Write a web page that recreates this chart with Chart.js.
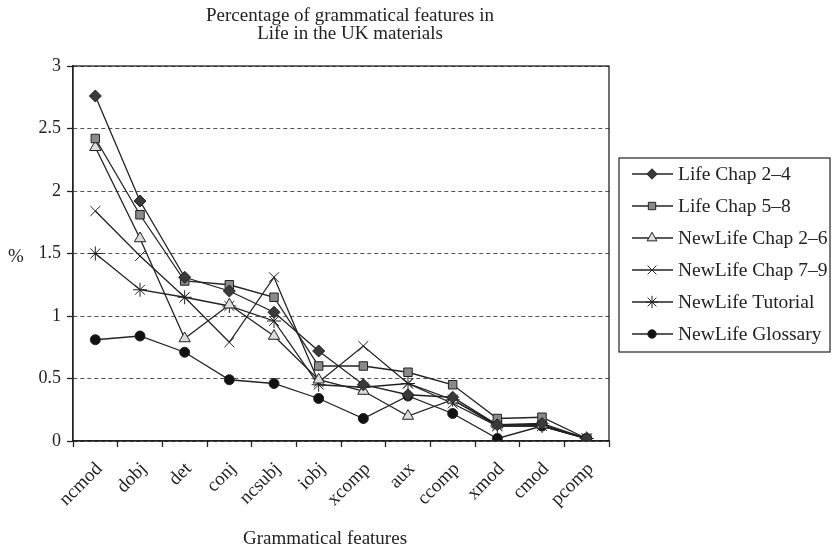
<!DOCTYPE html>
<html>
<head>
<meta charset="utf-8">
<script src="https://cdn.jsdelivr.net/npm/chart.js@4"></script>
<style>
  html, body { margin: 0; padding: 0; background: #fff; }
  #wrap { width: 833px; height: 551px; }
</style>
</head>
<body>
<div id="wrap"><canvas id="featChart" width="833" height="551"></canvas></div>
<script>
const categories = ['ncmod', 'dobj', 'det', 'conj', 'ncsubj', 'iobj', 'xcomp', 'aux', 'ccomp', 'xmod', 'cmod', 'pcomp'];
const yTicks = ['0', '0.5', '1', '1.5', '2', '2.5', '3'];

const lifeChap24      = [2.76, 1.92, 1.31, 1.20, 1.03, 0.72, 0.45, 0.37, 0.35, 0.13, 0.14, 0.02];
const lifeChap58      = [2.42, 1.81, 1.28, 1.25, 1.15, 0.60, 0.60, 0.55, 0.45, 0.18, 0.19, 0.02];
const newLifeChap26   = [2.35, 1.62, 0.82, 1.09, 0.84, 0.49, 0.40, 0.20, 0.33, 0.13, 0.13, 0.02];
const newLifeChap79   = [1.84, 1.48, 1.15, 0.79, 1.31, 0.47, 0.76, 0.46, 0.30, 0.12, 0.12, 0.02];
const newLifeTutorial = [1.50, 1.21, 1.15, 1.08, 0.96, 0.45, 0.43, 0.46, 0.33, 0.12, 0.12, 0.02];
const newLifeGlossary = [0.81, 0.84, 0.71, 0.49, 0.46, 0.34, 0.18, 0.36, 0.22, 0.02, 0.12, 0.02];

const SERIF = '"Liberation Serif", "Times New Roman", serif';
const INK = '#222';

function series(label, data, style, fill, radius) {
    return {
        label: label,
        data: data,
        borderColor: INK,
        borderWidth: 1.3,
        tension: 0,
        pointStyle: style,
        pointRadius: radius,
        pointBackgroundColor: fill,
        pointBorderColor: INK,
        pointBorderWidth: 1,
        fill: false
    };
}

// title, axis captions, plot frame and boxed legend
const decorations = {
    id: 'decorations',
    afterDraw(chart) {
        const c = chart.ctx;
        const a = chart.chartArea;
        c.save();
        c.fillStyle = INK;
        c.textAlign = 'center';
        c.textBaseline = 'middle';
        c.font = '19px ' + SERIF;
        c.fillText('Percentage of grammatical features in', 350, 16);
        c.fillText('Life in the UK materials', 350, 34);
        c.fillText('Grammatical features', 325, 539);
        c.fillText('%', 16, 257);

        c.strokeStyle = INK;
        c.lineWidth = 1.3;
        c.strokeRect(a.left, a.top, a.right - a.left, a.bottom - a.top);

        // legend
        const lx = 619, ly = 158, lw = 211, lh = 194;
        c.lineWidth = 1.2;
        c.strokeRect(lx, ly, lw, lh);
        c.font = '19.5px ' + SERIF;
        c.textAlign = 'left';
        chart.data.datasets.forEach((ds, i) => {
            const y = 174 + i * 32;
            c.strokeStyle = INK;
            c.lineWidth = 1.3;
            c.beginPath();
            c.moveTo(632, y);
            c.lineTo(673, y);
            c.stroke();
            c.fillStyle = ds.pointBackgroundColor;
            c.strokeStyle = INK;
            c.lineWidth = 1;
            Chart.helpers.drawPoint(c, {
                pointStyle: ds.pointStyle,
                radius: ds.pointRadius - 0.8,
                rotation: 0,
                borderWidth: 1
            }, 652, y);
            c.fillStyle = INK;
            c.fillText(ds.label, 678, y + 1);
        });
        c.restore();
    }
};

const ctx = document.getElementById('featChart').getContext('2d');
const featChart = new Chart(ctx, {
    type: 'line',
    data: {
        labels: categories,
        datasets: [
            series('Life Chap 2\u20134', lifeChap24, 'rectRot', '#3a3a3a', 6),
            series('Life Chap 5\u20138', lifeChap58, 'rect', '#8a8a8a', 6),
            series('NewLife Chap 2\u20136', newLifeChap26, 'triangle', '#dcdcdc', 6.5),
            series('NewLife Chap 7\u20139', newLifeChap79, 'crossRot', '#222', 7),
            series('NewLife Tutorial', newLifeTutorial, 'star', '#222', 7),
            series('NewLife Glossary', newLifeGlossary, 'circle', '#111', 5)
        ]
    },
    options: {
        responsive: false,
        animation: false,
        layout: {
            padding: { left: 0, right: 224, top: 66, bottom: 0 }
        },
        plugins: {
            legend: { display: false },
            title: { display: false },
            tooltip: { enabled: false }
        },
        scales: {
            y: {
                min: 0,
                max: 3,
                afterFit: s => { s.width = 73; },
                afterBuildTicks: s => {
                    s.ticks = yTicks.map(v => ({ value: parseFloat(v) }));
                },
                ticks: {
                    color: INK,
                    padding: 6,
                    font: { family: SERIF, size: 18 },
                    callback: (v, i) => yTicks[i]
                },
                border: { display: true, color: INK, width: 1.3, dash: [4, 3] },
                grid: {
                    color: '#555',
                    lineWidth: 1,
                    tickLength: 6,
                    tickColor: INK,
                    tickBorderDash: [],
                    tickWidth: 1.3
                }
            },
            x: {
                offset: true,
                afterFit: s => { s.height = 110; },
                ticks: {
                    color: INK,
                    padding: 11,
                    labelOffset: 4,
                    minRotation: 45,
                    maxRotation: 45,
                    autoSkip: false,
                    font: { family: SERIF, size: 19 }
                },
                border: { display: true, color: INK, width: 1.3 },
                grid: {
                    offset: true,
                    drawOnChartArea: false,
                    tickLength: 6,
                    tickColor: INK,
                    tickWidth: 1.3
                }
            }
        }
    },
    plugins: [decorations]
});
</script>
</body>
</html>
